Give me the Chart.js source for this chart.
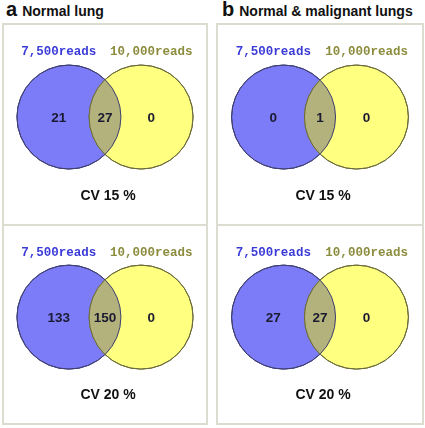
<!DOCTYPE html>
<html>
<head>
<meta charset="utf-8">
<script src="https://cdn.jsdelivr.net/npm/chart.js@4"></script>
<style>
  body { margin: 0; background: #fff; width: 425px; height: 428px; position: relative; overflow: hidden; font-family: "Liberation Sans", Arial, sans-serif; }
  .title { position: absolute; top: 0; font-weight: bold; font-size: 14px; color: #111; white-space: nowrap; }
  .title b { font-size: 20px; margin-right: 5px; }
  .box { position: absolute; top: 23px; height: 398px; border: 2px solid #dcdcd0; }
  .divider { position: absolute; left: 0; right: 0; top: 199px; height: 2px; background: #dcdcd0; }
  canvas { position: absolute; left: 0; }
</style>
</head>
<body>
<div class="title" style="left:6px;top:-2px"><b>a</b>Normal lung</div>
<div class="title" style="left:222px;top:-2px"><b>b</b>Normal &amp; malignant lungs</div>

<div class="box" style="left:2px;width:202px">
  <canvas id="a0" width="202" height="199" style="top:0"></canvas>
  <div class="divider"></div>
  <canvas id="a1" width="202" height="197" style="top:201px"></canvas>
</div>
<div class="box" style="left:216px;width:204px">
  <canvas id="b0" width="204" height="199" style="top:0"></canvas>
  <div class="divider"></div>
  <canvas id="b1" width="204" height="197" style="top:201px"></canvas>
</div>

<script>
const setNames = ['7,500reads', '10,000reads'];
const cvLevels = ['CV 15 %', 'CV 20 %'];

// a: normal lung, one entry per CV level
const normalOnly7500 = [21, 133];
const normalBoth = [27, 150];
const normalOnly10000 = [0, 0];

// b: normal & malignant lungs
const malignantOnly7500 = [0, 27];
const malignantBoth = [1, 27];
const malignantOnly10000 = [0, 0];

// draws the overlap, outlines and all labels on top of the two bubbles
const vennPlugin = {
  id: 'venn',
  afterDatasetsDraw(chart, args, opts) {
    const ctx = chart.ctx;
    const pts = chart.getDatasetMeta(0).data;
    const xs = chart.scales.x, ys = chart.scales.y;
    const a = pts[0], b = pts[1];

    ctx.save();
    ctx.beginPath();
    ctx.arc(a.x, a.y, a.options.radius, 0, Math.PI * 2);
    ctx.clip();
    ctx.beginPath();
    ctx.arc(b.x, b.y, b.options.radius, 0, Math.PI * 2);
    ctx.fillStyle = opts.overlapColor;
    ctx.fill();
    ctx.restore();

    ctx.save();
    pts.forEach(p => {
      ctx.beginPath();
      ctx.arc(p.x, p.y, p.options.radius, 0, Math.PI * 2);
      ctx.strokeStyle = p.options.borderColor;
      ctx.lineWidth = p.options.borderWidth;
      ctx.stroke();
    });

    ctx.textAlign = 'center';
    ctx.textBaseline = 'middle';

    // set names above the circles
    ctx.font = 'bold 12.5px "Liberation Mono", "Courier New", monospace';
    setNames.forEach((name, i) => {
      ctx.fillStyle = opts.nameColors[i];
      ctx.fillText(name, xs.getPixelForValue(opts.labelX[i === 0 ? 0 : 2]), ys.getPixelForValue(0.73));
    });

    // counts
    ctx.font = 'bold 13.5px "Liberation Sans", Arial, sans-serif';
    ctx.fillStyle = '#1a1a30';
    opts.counts.forEach((v, i) => {
      ctx.fillText(String(v), xs.getPixelForValue(opts.labelX[i]), a.y + 1);
    });

    // CV level
    ctx.font = 'bold 14px "Liberation Sans", Arial, sans-serif';
    ctx.fillStyle = '#111';
    ctx.fillText(opts.caption, chart.chartArea.left + chart.chartArea.width / 2 + 3, ys.getPixelForValue(-0.72));
    ctx.restore();
  }
};

function drawVenn(id, counts, caption) {
  return new Chart(document.getElementById(id), {
    type: 'bubble',
    data: {
      datasets: [{
        data: setNames.map((n, i) => ({ x: i - 0.5, y: 0.075 })),
        radius: 52,
        backgroundColor: ['#7c7cf8', '#ffff80'],
        borderColor: ['#3e3e72', '#6a6a3a'],
        borderWidth: 1
      }]
    },
    options: {
      responsive: false,
      animation: false,
      events: [],
      layout: { autoPadding: false, padding: 0 },
      scales: {
        x: { display: false, min: -1.4, max: 1.4 },
        y: { display: false, min: -1, max: 1 }
      },
      plugins: {
        legend: { display: false },
        tooltip: { enabled: false },
        venn: {
          counts: counts,
          caption: caption,
          labelX: [-0.64, 0, 0.64],
          overlapColor: '#b3b17c',
          nameColors: ['#3a3ad8', '#8c8c3e']
        }
      }
    },
    plugins: [vennPlugin]
  });
}

cvLevels.forEach((cv, i) => {
  drawVenn('a' + i, [normalOnly7500[i], normalBoth[i], normalOnly10000[i]], cv);
  drawVenn('b' + i, [malignantOnly7500[i], malignantBoth[i], malignantOnly10000[i]], cv);
});
</script>
</body>
</html>
